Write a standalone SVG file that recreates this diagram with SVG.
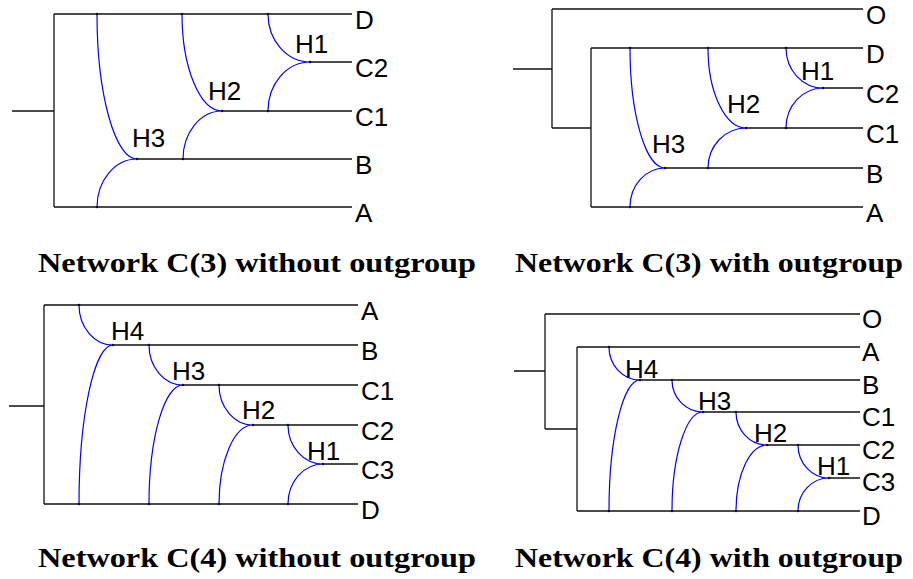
<svg xmlns="http://www.w3.org/2000/svg" width="913" height="579" viewBox="0 0 913 579">
<style>
.bg{fill:#fff}
.tr{stroke:#111;stroke-width:1.3;fill:none}
.hy{stroke:#0000ff;stroke-width:1.2;fill:none}
.dot{fill:#111}
.lab{font-family:"Liberation Sans",Arial,sans-serif;font-size:26px;fill:#000}
.ttl{font-family:"Liberation Serif","Times New Roman",serif;font-weight:bold;font-size:27px;fill:#000}
</style>
<rect class="bg" x="0" y="0" width="913" height="579"/>

<!-- Panel 1 -->
<g id="panel1">
<g id="p1-connectors">
<path class="tr" d="M12,111H54M54,14V207M54,14H352M54,207H352M137,159H352M222,111H352M310,62H352"/>
<path class="hy" d="M97,14A40,145 0 0 0 137,159M97,207A40,48 0 0 1 137,159M182,14A40,97 0 0 0 222,111M183,159A39,48 0 0 1 222,111M268,14A42,48 0 0 0 310,62M268,111A42,49 0 0 1 310,62"/>
<g class="dot"><circle cx="97" cy="14" r="1.3"/><circle cx="97" cy="207" r="1.3"/><circle cx="182" cy="14" r="1.3"/><circle cx="183" cy="159" r="1.3"/><circle cx="268" cy="14" r="1.3"/><circle cx="268" cy="111" r="1.3"/><circle cx="137" cy="159" r="1.3"/><circle cx="222" cy="111" r="1.3"/><circle cx="310" cy="62" r="1.3"/></g>
</g>
<g id="p1-D"><text class="lab" x="355" y="28.5">D</text></g>
<g id="p1-C2"><text class="lab" x="355" y="76.5">C2</text></g>
<g id="p1-C1"><text class="lab" x="355" y="125.5">C1</text></g>
<g id="p1-B"><text class="lab" x="355" y="173.5">B</text></g>
<g id="p1-A"><text class="lab" x="355" y="221.5">A</text></g>
<g id="p1-H1"><text class="lab" x="295" y="53">H1</text></g>
<g id="p1-H2"><text class="lab" x="208" y="100">H2</text></g>
<g id="p1-H3"><text class="lab" x="132" y="146.5">H3</text></g>
<text class="ttl" x="38" y="272" textLength="438" lengthAdjust="spacingAndGlyphs">Network C(3) without outgroup</text>
</g>

<!-- Panel 2 -->
<g id="panel2">
<g id="p2-connectors">
<path class="tr" d="M513,69H552M552,9V128M552,9H863M552,128H591M591,48V207M591,48H863M591,207H863M665,168H863M746,128H863M823,88H863"/>
<path class="hy" d="M630,48A35,120 0 0 0 665,168M630,207A35,39 0 0 1 665,168M708,48A38,80 0 0 0 746,128M708,168A38,40 0 0 1 746,128M786,48A37,40 0 0 0 823,88M786,128A37,40 0 0 1 823,88"/>
<g class="dot"><circle cx="630" cy="48" r="1.3"/><circle cx="630" cy="207" r="1.3"/><circle cx="708" cy="48" r="1.3"/><circle cx="708" cy="168" r="1.3"/><circle cx="786" cy="48" r="1.3"/><circle cx="786" cy="128" r="1.3"/><circle cx="665" cy="168" r="1.3"/><circle cx="746" cy="128" r="1.3"/><circle cx="823" cy="88" r="1.3"/></g>
</g>
<g id="p2-O"><text class="lab" x="866" y="23.5">O</text></g>
<g id="p2-D"><text class="lab" x="866" y="62.5">D</text></g>
<g id="p2-C2"><text class="lab" x="866" y="102.5">C2</text></g>
<g id="p2-C1"><text class="lab" x="866" y="142.5">C1</text></g>
<g id="p2-B"><text class="lab" x="866" y="182.5">B</text></g>
<g id="p2-A"><text class="lab" x="866" y="221.5">A</text></g>
<g id="p2-H1"><text class="lab" x="801" y="80">H1</text></g>
<g id="p2-H2"><text class="lab" x="727" y="113">H2</text></g>
<g id="p2-H3"><text class="lab" x="652" y="153">H3</text></g>
<text class="ttl" x="515" y="272" textLength="388" lengthAdjust="spacingAndGlyphs">Network C(3) with outgroup</text>
</g>

<!-- Panel 3 -->
<g id="panel3">
<g id="p3-connectors">
<path class="tr" d="M9,406H44M44,305V504M44,305H358M44,504H358M113,345H358M183,385H358M253,425H358M323,464H358"/>
<path class="hy" d="M79,305A34,40 0 0 0 113,345M79,504A34,159 0 0 1 113,345M149,345A34,40 0 0 0 183,385M149,504A34,119 0 0 1 183,385M219,385A34,40 0 0 0 253,425M219,504A34,79 0 0 1 253,425M288,425A35,39 0 0 0 323,464M288,504A35,40 0 0 1 323,464"/>
<g class="dot"><circle cx="79" cy="305" r="1.3"/><circle cx="79" cy="504" r="1.3"/><circle cx="149" cy="345" r="1.3"/><circle cx="149" cy="504" r="1.3"/><circle cx="219" cy="385" r="1.3"/><circle cx="219" cy="504" r="1.3"/><circle cx="288" cy="425" r="1.3"/><circle cx="288" cy="504" r="1.3"/><circle cx="113" cy="345" r="1.3"/><circle cx="183" cy="385" r="1.3"/><circle cx="253" cy="425" r="1.3"/><circle cx="323" cy="464" r="1.3"/></g>
</g>
<g id="p3-A"><text class="lab" x="361" y="319.5">A</text></g>
<g id="p3-B"><text class="lab" x="361" y="359.5">B</text></g>
<g id="p3-C1"><text class="lab" x="361" y="399.5">C1</text></g>
<g id="p3-C2"><text class="lab" x="361" y="439.5">C2</text></g>
<g id="p3-C3"><text class="lab" x="361" y="478.5">C3</text></g>
<g id="p3-D"><text class="lab" x="361" y="518.5">D</text></g>
<g id="p3-H4"><text class="lab" x="111" y="340">H4</text></g>
<g id="p3-H3"><text class="lab" x="172" y="380">H3</text></g>
<g id="p3-H2"><text class="lab" x="242" y="419">H2</text></g>
<g id="p3-H1"><text class="lab" x="307" y="460">H1</text></g>
<text class="ttl" x="38" y="567" textLength="438" lengthAdjust="spacingAndGlyphs">Network C(4) without outgroup</text>
</g>

<!-- Panel 4 -->
<g id="panel4">
<g id="p4-connectors">
<path class="tr" d="M514,371H545M545,314V429M545,314H860M545,429H577M577,347V511M577,347H860M577,511H860M640,380H860M703,412H860M767,445H860M829,478H860"/>
<path class="hy" d="M609,347A31,33 0 0 0 640,380M609,511A31,131 0 0 1 640,380M672,380A31,32 0 0 0 703,412M672,511A31,99 0 0 1 703,412M736,412A31,33 0 0 0 767,445M736,511A31,66 0 0 1 767,445M798,445A31,33 0 0 0 829,478M798,511A31,33 0 0 1 829,478"/>
<g class="dot"><circle cx="609" cy="347" r="1.3"/><circle cx="609" cy="511" r="1.3"/><circle cx="672" cy="380" r="1.3"/><circle cx="672" cy="511" r="1.3"/><circle cx="736" cy="412" r="1.3"/><circle cx="736" cy="511" r="1.3"/><circle cx="798" cy="445" r="1.3"/><circle cx="798" cy="511" r="1.3"/><circle cx="640" cy="380" r="1.3"/><circle cx="703" cy="412" r="1.3"/><circle cx="767" cy="445" r="1.3"/><circle cx="829" cy="478" r="1.3"/></g>
</g>
<g id="p4-O"><text class="lab" x="862" y="328">O</text></g>
<g id="p4-A"><text class="lab" x="862" y="360.5">A</text></g>
<g id="p4-B"><text class="lab" x="862" y="393.5">B</text></g>
<g id="p4-C1"><text class="lab" x="862" y="426">C1</text></g>
<g id="p4-C2"><text class="lab" x="862" y="458.5">C2</text></g>
<g id="p4-C3"><text class="lab" x="862" y="491">C3</text></g>
<g id="p4-D"><text class="lab" x="862" y="524.5">D</text></g>
<g id="p4-H4"><text class="lab" x="625" y="378">H4</text></g>
<g id="p4-H3"><text class="lab" x="698" y="410">H3</text></g>
<g id="p4-H2"><text class="lab" x="754" y="442">H2</text></g>
<g id="p4-H1"><text class="lab" x="817" y="475">H1</text></g>
<text class="ttl" x="515" y="567" textLength="388" lengthAdjust="spacingAndGlyphs">Network C(4) with outgroup</text>
</g>
</svg>
